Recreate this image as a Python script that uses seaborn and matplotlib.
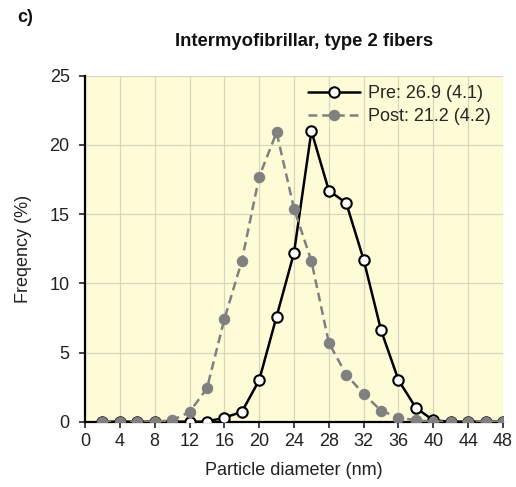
import matplotlib
matplotlib.use("Agg")
import matplotlib.pyplot as plt
import seaborn as sns
import pandas as pd

diameter = [2, 4, 6, 8, 10, 12, 14, 16, 18, 20, 22, 24, 26, 28, 30, 32, 34, 36, 38, 40, 42, 44, 46, 48]
pre = [0, 0, 0, 0, 0, 0, 0, 0.3, 0.7, 3.0, 7.6, 12.2, 21.0, 16.7, 15.8, 11.7, 6.6, 3.0, 1.0, 0.1, 0, 0, 0, 0]
post = [0, 0, 0, 0, 0.1, 0.7, 2.4, 7.4, 11.6, 17.7, 20.9, 15.4, 11.6, 5.7, 3.4, 2.0, 0.8, 0.3, 0.1, 0, 0, 0, 0, 0]
pre_label = "Pre: 26.9 (4.1)"
post_label = "Post: 21.2 (4.2)"
title = "Intermyofibrillar, type 2 fibers"
xlabel = "Particle diameter (nm)"
ylabel = "Freqency (%)"
xticks = list(range(0, 49, 4))
yticks = [0, 5, 10, 15, 20, 25]

sns.set_style("white")
plt.rcParams['font.family'] = ['Liberation Sans', 'DejaVu Sans']

fig = plt.figure(figsize=(5.16, 4.87), dpi=100)
ax = fig.add_axes([85/516, 1-421.7/487, (503-85)/516, (421.7-75.7)/487])
ax.set_facecolor("#FEFCD6")

df_pre = pd.DataFrame({"x": diameter, "y": pre})
df_post = pd.DataFrame({"x": diameter, "y": post})

sns.lineplot(data=df_pre, x="x", y="y", ax=ax, color="black", lw=1.8,
             marker="o", markersize=7.5, markerfacecolor="white",
             markeredgecolor="black", markeredgewidth=1.5, label=pre_label, zorder=3)
sns.lineplot(data=df_post, x="x", y="y", ax=ax, color="#808080", lw=1.8,
             linestyle=(0, (3.5, 2)), marker="o", markersize=7.5,
             markerfacecolor="#808080", markeredgecolor="#808080",
             label=post_label, zorder=4)

ax.set_xlim(0, 48)
ax.set_ylim(0, 25)
ax.set_xticks(xticks)
ax.set_yticks(yticks)
ax.grid(True, color="#D9D6C0", lw=0.9)
ax.set_axisbelow(True)
for s in ["top", "right"]:
    ax.spines[s].set_visible(False)
for s in ["left", "bottom"]:
    ax.spines[s].set_color("black")
    ax.spines[s].set_linewidth(1.6)
    ax.spines[s].set_zorder(2)
ax.tick_params(axis="both", direction="out", length=4, width=1.2, colors="#222222",
               labelsize=13, left=True, bottom=True)
ax.tick_params(axis="y", pad=7)
ax.tick_params(axis="x", pad=4)
ax.set_xlabel(xlabel, fontsize=13, labelpad=9, color="#222222")
ax.set_ylabel(ylabel, fontsize=13, labelpad=13, color="#222222")

leg = ax.legend(loc="upper right", bbox_to_anchor=(1.0, 1.01), frameon=False,
                fontsize=13, handlelength=2.9, handletextpad=0.4,
                labelspacing=0.35, borderaxespad=0.3)

fig.text(304/516, 1-41/487, title, ha="center", va="center",
         fontsize=13.3, fontweight="bold", color="#111111")
fig.text(17/516, 1-18/487, "c)", ha="left", va="center",
         fontsize=13, fontweight="bold", color="#111111")

fig.savefig("out.png", dpi=100)
